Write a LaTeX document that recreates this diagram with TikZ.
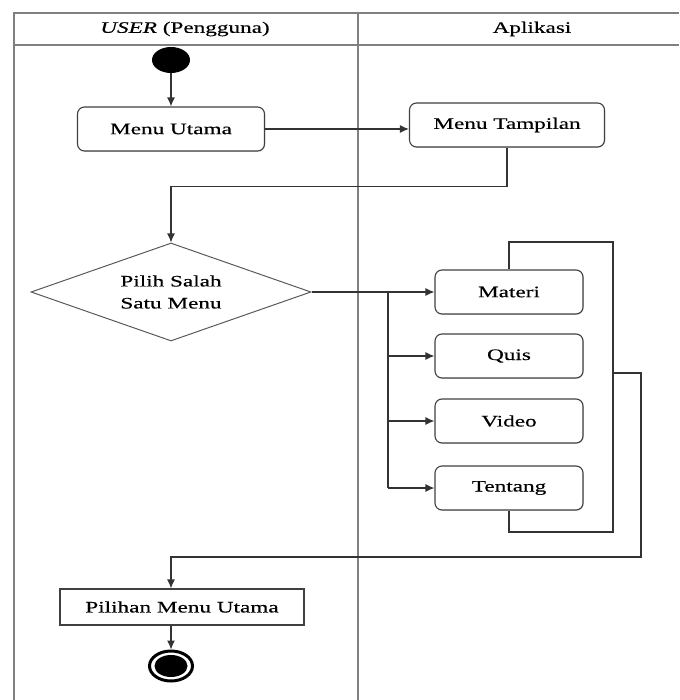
\documentclass[tikz,border=0pt]{standalone}
\usepackage{fontspec}
\setmainfont{Liberation Serif}[FakeStretch=1.45,FakeBold=0.3]
\usetikzlibrary{shapes.geometric,arrows.meta,shadows}

\begin{document}
\begin{tikzpicture}[x=1pt,y=-1pt,
  font=\fontsize{16}{22}\selectfont,
  frame/.style={draw=black!50, line width=1.3pt},
  flow/.style={draw=black!80, line width=1.2pt},
  arr/.style={flow, -{Latex[length=9pt,width=8pt]}},
  act/.style={draw=black!75, line width=1.1pt, rounded corners=7pt,
    minimum height=44pt, fill=white,
    drop shadow={opacity=0.25, shadow xshift=0.8pt, shadow yshift=-0.8pt}},
  plainbox/.style={draw=black!75, line width=1.1pt, fill=white,
    drop shadow={opacity=0.25, shadow xshift=0.8pt, shadow yshift=-0.8pt}},
]
\useasboundingbox (0,0) rectangle (679,700);

% swimlane frame
\draw[frame] (14,700) -- (14,13) -- (679,13);
\draw[frame] (14,45) -- (679,45);
\draw[frame] (358,13) -- (358,700);
\node (hUser) at (185,29) {\textit{USER} (Pengguna)};
\node (hApp) at (532,29) {Aplikasi};

% user lane
\node[ellipse, fill=black, minimum width=38pt, minimum height=26pt, inner sep=0] (start) at (171,60) {};
\node[act, minimum width=187pt] (utama) at (171,129) {Menu Utama};
\node[diamond, draw=black!65, line width=1pt, inner sep=0, aspect=2.857,
      minimum width=280pt, minimum height=98pt, align=center] (pilih) at (171,292) {Pilih Salah\\Satu Menu};
\node[plainbox, minimum width=244pt, minimum height=36pt] (pilihan) at (182,607) {Pilihan Menu Utama};
\node[ellipse, draw=black, line width=3pt, fill=white, minimum width=43pt, minimum height=30pt, inner sep=0] (end) at (171,666) {};
\node[ellipse, fill=black, minimum width=33pt, minimum height=22pt, inner sep=0] (endcore) at (end.center) {};

% application lane
\node[act, minimum width=195pt] (tampil) at (507,125) {Menu Tampilan};
\node[act, minimum width=148pt] (materi) at (509,292) {Materi};
\node[act, minimum width=148pt] (quis) at (509,356) {Quis};
\node[act, minimum width=148pt] (video) at (509,421) {Video};
\node[act, minimum width=148pt] (tentang) at (509,488) {Tentang};

% helper points of the connectors
\coordinate (br) at (388,292);
\coordinate (loopTop) at (613,242);
\coordinate (loopBot) at (613,532);
\coordinate (exitA) at (613,373);
\coordinate (exitB) at (641,557);
\coordinate (drop) at (171,557);

% connectors
\draw[arr] (start.south) -- (utama.north);
\draw[arr] (utama.east) -- (utama.east -| tampil.west);
\draw[arr] (tampil.south) -- ++(0,39) -| (pilih.north);
\draw[arr] (pilih.east) -- (materi.west);
\draw[flow] (br) -- (br |- tentang.west);
\draw[arr] (br |- quis.west) -- (quis.west);
\draw[arr] (br |- video.west) -- (video.west);
\draw[arr] (br |- tentang.west) -- (tentang.west);
\draw[flow] (materi.north) |- (loopTop) -- (loopBot) -| (tentang.south);
\draw[arr] (exitA) -| (exitB) -- (drop) -- (drop |- pilihan.north);
\draw[arr] (pilihan.south -| end.north) -- (end.north);
\end{tikzpicture}
\end{document}
